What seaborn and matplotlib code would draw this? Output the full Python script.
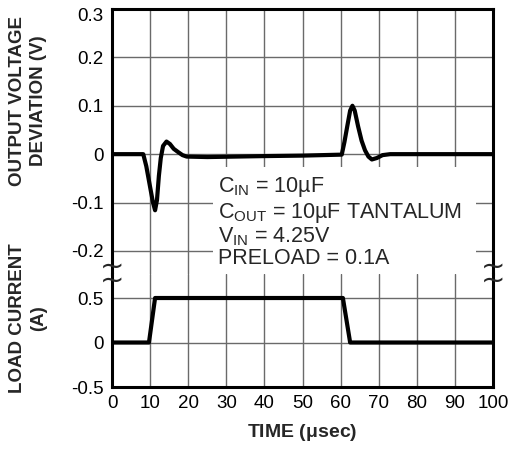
import matplotlib
matplotlib.use("Agg")
import matplotlib.pyplot as plt
import matplotlib.transforms as mtrans
import seaborn as sns
import pandas as pd
from matplotlib.patches import Rectangle

# ---- data ----
time_v = [0, 8.2, 9, 10, 10.7, 11.3, 11.8, 12.3, 12.8, 13.4, 14.3, 15.2, 16.2, 17.4, 18.5, 19.6,
          25, 40, 50, 60.3, 61, 61.8, 62.5, 63.1, 63.7, 64.6, 65.5, 66.4, 67.3, 68.2, 69.5, 71, 73, 80, 90, 100]
volt_dev = [0, 0, -0.025, -0.068, -0.098, -0.116, -0.095, -0.045, -0.008, 0.017, 0.026, 0.021, 0.011, 0.004, -0.002, -0.005,
            -0.006, -0.004, -0.003, -0.001, 0.025, 0.06, 0.09, 0.1, 0.09, 0.057, 0.028, 0.008, -0.005, -0.011, -0.008, -0.002, 0, 0, 0, 0]
time_i = [0, 9.7, 11.3, 60.6, 62.5, 100]
load_i = [0, 0, 0.5, 0.5, 0, 0]

x_ticks = [0, 10, 20, 30, 40, 50, 60, 70, 80, 90, 100]
v_ticks = [-0.2, -0.1, 0, 0.1, 0.2, 0.3]
v_labels = ["-0.2", "-0.1", "0", "0.1", "0.2", "0.3"]
i_ticks = [-0.5, 0, 0.5]
i_labels = ["-0.5", "0", "0.5"]
notes = [r"C$_{\mathrm{IN}}$ = 10µF",
         r"C$_{\mathrm{OUT}}$ = 10µF TANTALUM",
         r"V$_{\mathrm{IN}}$ = 4.25V",
         "PRELOAD = 0.1A"]

sns.set_style("white")
plt.rcParams["font.family"] = ["Liberation Sans", "DejaVu Sans"]
plt.rcParams["mathtext.fontset"] = "custom"
plt.rcParams["mathtext.rm"] = "Liberation Sans"
plt.rcParams["mathtext.it"] = "Liberation Sans:italic"
plt.rcParams["mathtext.bf"] = "Liberation Sans:bold"

fig = plt.figure(figsize=(5.08, 4.51), dpi=100)
ax_v = fig.add_axes([0.2205, 0.3925, 0.75, 0.5876])
ax_i = fig.add_axes([0.2205, 0.1419, 0.75, 0.2506])

df_v = pd.DataFrame({"t": time_v, "v": volt_dev})
df_i = pd.DataFrame({"t": time_i, "i": load_i})

grid_kw = dict(color="#6a6a6a", lw=1.0)
for ax in (ax_v, ax_i):
    ax.set_xlim(0, 100)
    ax.grid(True, **grid_kw)
    ax.set_axisbelow(True)
    ax.tick_params(length=0, labelsize=13.5, pad=6, colors="black")
    for s in ax.spines.values():
        s.set_linewidth(2.2)
        s.set_color("black")

sns.lineplot(data=df_v, x="t", y="v", ax=ax_v, color="black", lw=3.0, zorder=5, sort=False)
sns.lineplot(data=df_i, x="t", y="i", ax=ax_i, color="black", lw=3.0, zorder=5, sort=False)

ax_v.set_ylim(-0.2476, 0.3)
ax_v.set_yticks(v_ticks)
ax_v.set_yticklabels(v_labels)
ax_v.set_xticks(x_ticks)
ax_v.tick_params(axis="x", labelbottom=False)
ax_v.spines["bottom"].set_visible(False)
ax_v.set_xlabel("")
ax_v.set_ylabel("")

ax_i.set_ylim(-0.5, 0.77)
ax_i.set_yticks(i_ticks)
ax_i.set_yticklabels(i_labels)
ax_i.set_xticks(x_ticks)
ax_i.spines["top"].set_visible(False)
ax_i.set_ylabel("")
ax_i.set_xlabel(r"TIME ($\mathbf{\mu}$sec)", fontsize=14, fontweight="bold", labelpad=7)

# shift top tick label slightly down like reference
lbl = ax_v.get_yticklabels()[-1]
lbl.set_transform(lbl.get_transform() + mtrans.ScaledTranslation(0, -6 / 100, fig.dpi_scale_trans))

# notes block with white background
ax_v.add_patch(Rectangle((0.265, 0.0), 0.69, 0.404, transform=ax_v.transAxes,
                         facecolor="white", edgecolor="none", zorder=3))
ys = [-0.0782, -0.1319, -0.1815, -0.227]
for s, y in zip(notes, ys):
    ax_v.text(27.8, y, s, fontsize=15.5, va="baseline", ha="left", zorder=6)

# y-axis titles
fig.text(0.055, 1 - 101 / 451, "OUTPUT VOLTAGE\nDEVIATION (V)", rotation=90, ha="center", va="center",
         fontsize=13.5, fontweight="bold", linespacing=1.3)
fig.text(0.055, 1 - 318 / 451, "LOAD CURRENT\n(A)", rotation=90, ha="center", va="center",
         fontsize=13.5, fontweight="bold", linespacing=1.3)

# axis break marks (two stacked tildes on each side spine)
for xf in (112 / 508, 493 / 508):
    fig.text(xf, 1 - 274 / 451, "~\n~", ha="center", va="center", fontsize=21,
             family="DejaVu Sans", linespacing=0.36, zorder=10)

fig.savefig("out.png", dpi=100)
